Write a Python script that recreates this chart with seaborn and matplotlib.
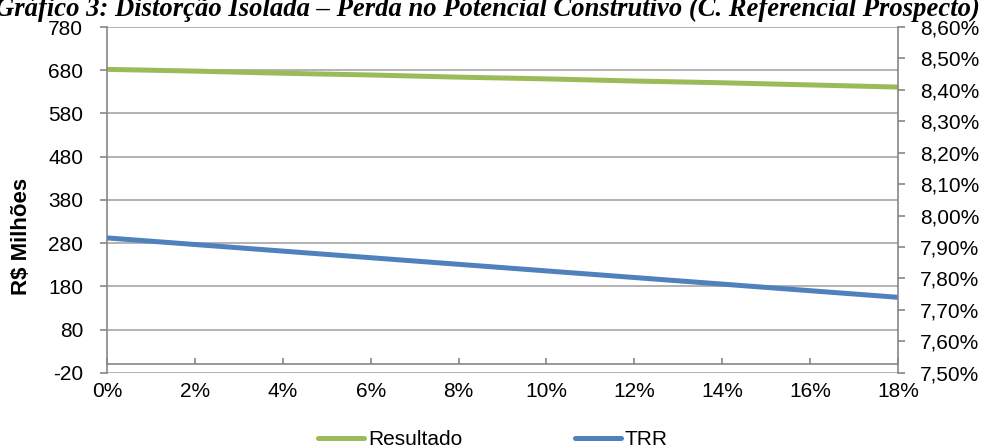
import pandas as pd
import seaborn as sns
import matplotlib.pyplot as plt
from matplotlib.ticker import FuncFormatter, MultipleLocator

# data
perda = [0, 2, 4, 6, 8, 10, 12, 14, 16, 18]
resultado = [682, 678, 673, 669, 664, 660, 655, 651, 646, 641]
trr = [7.929, 7.908, 7.887, 7.866, 7.845, 7.824, 7.803, 7.782, 7.761, 7.740]

title = "Gráfico 3: Distorção Isolada – Perda no Potencial Construtivo (C. Referencial Prospecto)"

sns.set_style("white")
plt.rcParams["font.family"] = ["Liberation Sans", "DejaVu Sans"]
plt.rcParams["text.color"] = "black"
plt.rcParams["xtick.labelcolor"] = "black"
plt.rcParams["ytick.labelcolor"] = "black"

df = pd.DataFrame({"perda": perda, "Resultado": resultado, "TRR": trr})

fig = plt.figure(figsize=(9.86, 4.48), dpi=100)
ax = fig.add_axes([0.1085, 0.168, 0.8023, 0.7717])
ax2 = ax.twinx()

green = "#9BBB59"
blue = "#4F81BD"
grid_c = "#A6A6A6"
spine_c = "#868686"

sns.lineplot(data=df, x="perda", y="Resultado", ax=ax, color=green, linewidth=3.6, label="Resultado", legend=False)
sns.lineplot(data=df, x="perda", y="TRR", ax=ax2, color=blue, linewidth=3.6, label="TRR", legend=False)

ax.set_xlim(0, 18)
ax.set_ylim(-20, 780)
ax.set_yticks(range(-20, 781, 100))
ax.yaxis.set_major_formatter(FuncFormatter(lambda v, p: f"{v:.0f}"))
ax.xaxis.set_major_locator(MultipleLocator(2))
ax.xaxis.set_major_formatter(FuncFormatter(lambda v, p: f"{v:.0f}%"))

ax2.set_ylim(7.5, 8.6)
ax2.set_yticks([7.5 + 0.1 * i for i in range(12)])
ax2.yaxis.set_major_formatter(FuncFormatter(lambda v, p: f"{v:.2f}%".replace(".", ",")))

# horizontal gridlines on the left scale
ax.grid(axis="y", color=grid_c, linewidth=1.2)
ax.grid(axis="x", visible=False)
ax.set_axisbelow(True)

for a in (ax, ax2):
    a.spines["top"].set_visible(False)
    for s in ("left", "right", "bottom"):
        a.spines[s].set_color(spine_c)
        a.spines[s].set_linewidth(1.2)
ax2.spines["bottom"].set_visible(False)
ax.spines["right"].set_visible(False)
ax2.spines["left"].set_visible(False)

# category axis crosses at zero
ax.spines["bottom"].set_position(("data", 0))
ax.tick_params(axis="x", direction="in", length=4.5, width=1.2, color=spine_c,
               pad=13, labelsize=15, bottom=True)
ax.tick_params(axis="y", direction="out", length=5, width=1.2, color=spine_c,
               pad=12, labelsize=15, left=True)
ax2.tick_params(axis="y", direction="out", length=5, width=1.2, color=spine_c,
                pad=11, labelsize=15, right=True)

ax.set_xlabel("")
ax.set_ylabel("R$ Milhões", fontsize=16, fontweight="bold", color="black")
ax.yaxis.set_label_coords(-0.095, 0.395)
ax2.set_ylabel("")

fig.text(0.494, 1 - 16 / 448, title, ha="center", va="baseline", fontsize=19.2,
         fontweight="bold", fontstyle="italic", family=["Liberation Serif", "DejaVu Serif"])

h1, l1 = ax.get_legend_handles_labels()
h2, l2 = ax2.get_legend_handles_labels()
fig.legend(h1 + h2, l1 + l2, loc="center", bbox_to_anchor=(0.5, 0.018), ncol=2,
           frameon=False, fontsize=15, handlelength=2.2, handletextpad=0.2,
           columnspacing=5.4, borderpad=0)

fig.savefig("out.png", dpi=100)
